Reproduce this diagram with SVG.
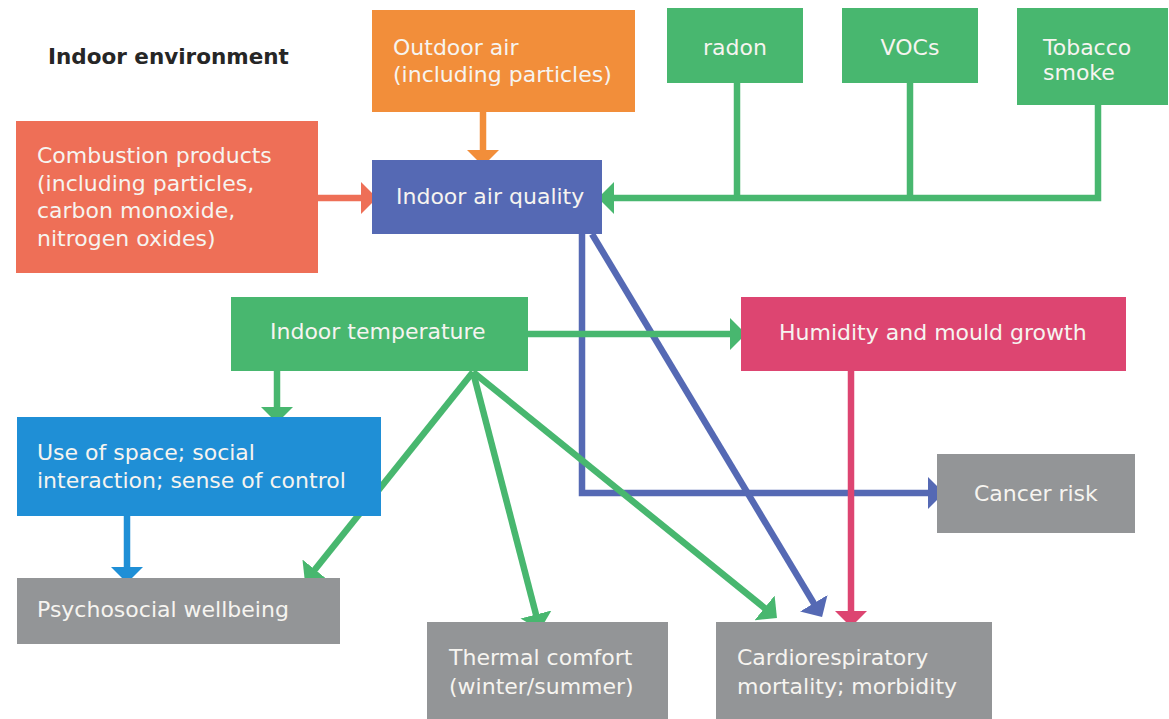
<svg xmlns="http://www.w3.org/2000/svg" width="1169" height="719" viewBox="0 0 1169 719">
  <style>
    .box text { font-family: "DejaVu Sans", "Liberation Sans", sans-serif; font-size: 22px; fill: #f6f4f0; }
    .title { font-family: "DejaVu Sans", "Liberation Sans", sans-serif; font-size: 21.5px; font-weight: bold; fill: #262626; }
    .orange { fill: #f28e3a; }
    .coral { fill: #ee6f57; }
    .navy { fill: #5569b4; }
    .green { fill: #48b76f; }
    .pink { fill: #dd4571; }
    .sky { fill: #1f8fd6; }
    .grey { fill: #939597; }
    #connectors path { fill: none; stroke-width: 6.5; stroke-linecap: butt; stroke-linejoin: miter; }
  </style>
  <defs>
    <marker id="ah-green" viewBox="0 0 16 32" refX="6" refY="16" markerWidth="16" markerHeight="32" markerUnits="userSpaceOnUse" orient="auto"><path d="M0,0 L16,16 L0,32 z" fill="#48b76f"/></marker>
    <marker id="ah-orange" viewBox="0 0 16 32" refX="6" refY="16" markerWidth="16" markerHeight="32" markerUnits="userSpaceOnUse" orient="auto"><path d="M0,0 L16,16 L0,32 z" fill="#f28e3a"/></marker>
    <marker id="ah-coral" viewBox="0 0 16 32" refX="6" refY="16" markerWidth="16" markerHeight="32" markerUnits="userSpaceOnUse" orient="auto"><path d="M0,0 L16,16 L0,32 z" fill="#ee6f57"/></marker>
    <marker id="ah-navy" viewBox="0 0 16 32" refX="6" refY="16" markerWidth="16" markerHeight="32" markerUnits="userSpaceOnUse" orient="auto"><path d="M0,0 L16,16 L0,32 z" fill="#5569b4"/></marker>
    <marker id="ah-pink" viewBox="0 0 16 32" refX="6" refY="16" markerWidth="16" markerHeight="32" markerUnits="userSpaceOnUse" orient="auto"><path d="M0,0 L16,16 L0,32 z" fill="#dd4571"/></marker>
    <marker id="ah-sky" viewBox="0 0 16 32" refX="6" refY="16" markerWidth="16" markerHeight="32" markerUnits="userSpaceOnUse" orient="auto"><path d="M0,0 L16,16 L0,32 z" fill="#1f8fd6"/></marker>
  </defs>

  <rect width="1169" height="719" fill="#ffffff"/>

  <text class="title" x="48" y="64">Indoor environment</text>

  <!-- connectors -->
  <g id="connectors">
    <!-- pollutant sources into indoor air quality -->
    <path d="M483,112 V156" stroke="#f28e3a" marker-end="url(#ah-orange)"/>
    <path d="M318,198 H367" stroke="#ee6f57" marker-end="url(#ah-coral)"/>
    <path d="M737,83 V198" stroke="#48b76f"/>
    <path d="M910,83 V198" stroke="#48b76f"/>
    <path d="M1098,105 V198 H608" stroke="#48b76f" marker-end="url(#ah-green)"/>
    <!-- indoor air quality outcomes -->
    <path d="M582,234 V493 H934" stroke="#5569b4" marker-end="url(#ah-navy)"/>
    <path d="M592,234 L816.9,608.4" stroke="#5569b4" marker-end="url(#ah-navy)"/>
    <!-- indoor temperature effects -->
    <path d="M528,334 H736" stroke="#48b76f" marker-end="url(#ah-green)"/>
    <path d="M277,371 V413" stroke="#48b76f" marker-end="url(#ah-green)"/>
    <path d="M473,372 L311.2,574.2" stroke="#48b76f" marker-end="url(#ah-green)"/>
    <path d="M473,372 L537.5,620.3" stroke="#48b76f" marker-end="url(#ah-green)"/>
    <path d="M473,372 L769.2,611.7" stroke="#48b76f" marker-end="url(#ah-green)"/>
    <!-- humidity and social pathways -->
    <path d="M851,371 V617" stroke="#dd4571" marker-end="url(#ah-pink)"/>
    <path d="M127,516 V573" stroke="#1f8fd6" marker-end="url(#ah-sky)"/>
  </g>

  <!-- nodes -->
  <g id="outdoor-air" class="box">
    <rect class="orange" x="372" y="10" width="263" height="102"/>
    <text x="393" y="55">Outdoor air</text>
    <text x="393" y="82">(including particles)</text>
  </g>

  <g id="radon" class="box">
    <rect class="green" x="667" y="8" width="136" height="75"/>
    <text x="735" y="55" text-anchor="middle">radon</text>
  </g>

  <g id="vocs" class="box">
    <rect class="green" x="842" y="8" width="136" height="75"/>
    <text x="910" y="55" text-anchor="middle">VOCs</text>
  </g>

  <g id="tobacco-smoke" class="box">
    <rect class="green" x="1017" y="8" width="151" height="97"/>
    <text x="1043" y="55">Tobacco</text>
    <text x="1043" y="80">smoke</text>
  </g>

  <g id="combustion-products" class="box">
    <rect class="coral" x="16" y="121" width="302" height="152"/>
    <text x="37" y="163">Combustion products</text>
    <text x="37" y="191">(including particles,</text>
    <text x="37" y="218">carbon monoxide,</text>
    <text x="37" y="246">nitrogen oxides)</text>
  </g>

  <g id="indoor-air-quality" class="box">
    <rect class="navy" x="372" y="160" width="230" height="74"/>
    <text x="396" y="204">Indoor air quality</text>
  </g>

  <g id="indoor-temperature" class="box">
    <rect class="green" x="231" y="297" width="297" height="74"/>
    <text x="270" y="339">Indoor temperature</text>
  </g>

  <g id="humidity-mould" class="box">
    <rect class="pink" x="741" y="297" width="385" height="74"/>
    <text x="779" y="340">Humidity and mould growth</text>
  </g>

  <g id="use-of-space" class="box">
    <rect class="sky" x="17" y="417" width="364" height="99"/>
    <text x="37" y="460">Use of space; social</text>
    <text x="37" y="488">interaction; sense of control</text>
  </g>

  <g id="cancer-risk" class="box">
    <rect class="grey" x="937" y="454" width="198" height="79"/>
    <text x="974" y="501">Cancer risk</text>
  </g>

  <g id="psychosocial-wellbeing" class="box">
    <rect class="grey" x="17" y="578" width="323" height="66"/>
    <text x="37" y="617">Psychosocial wellbeing</text>
  </g>

  <g id="thermal-comfort" class="box">
    <rect class="grey" x="427" y="622" width="241" height="97"/>
    <text x="449" y="665">Thermal comfort</text>
    <text x="449" y="694">(winter/summer)</text>
  </g>

  <g id="cardiorespiratory" class="box">
    <rect class="grey" x="716" y="622" width="276" height="97"/>
    <text x="737" y="665">Cardiorespiratory</text>
    <text x="737" y="694">mortality; morbidity</text>
  </g>
</svg>
